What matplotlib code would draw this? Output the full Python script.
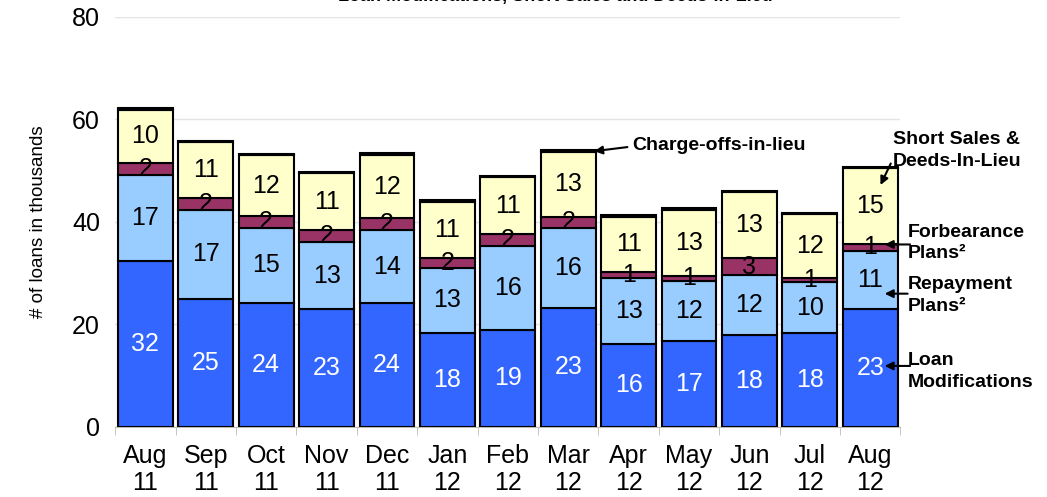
import matplotlib.pyplot as plt
import numpy as np

plt.rcParams['font.family'] = ['Liberation Sans', 'DejaVu Sans']

# Values in thousands of loans
months = ['Aug\n11', 'Sep\n11', 'Oct\n11', 'Nov\n11', 'Dec\n11', 'Jan\n12', 'Feb\n12',
          'Mar\n12', 'Apr\n12', 'May\n12', 'Jun\n12', 'Jul\n12', 'Aug\n12']
loan_mods = [32.4, 25.0, 24.2, 23.0, 24.2, 18.4, 19.0, 23.2, 16.2, 16.8, 18.0, 18.3, 23.1]
repayment = [16.7, 17.3, 14.6, 13.0, 14.2, 12.6, 16.3, 15.6, 12.9, 11.7, 11.6, 10.0, 11.3]
forbearance = [2.4, 2.4, 2.4, 2.4, 2.3, 2.0, 2.4, 2.2, 1.1, 1.0, 3.3, 0.8, 1.3]
short_sales = [10.4, 10.8, 11.8, 11.1, 12.4, 10.9, 11.0, 12.7, 10.8, 12.9, 12.9, 12.4, 14.8]
charge_offs = [0.3, 0.3, 0.3, 0.3, 0.3, 0.3, 0.3, 0.3, 0.3, 0.3, 0.3, 0.3, 0.3]

series = [
    (loan_mods, '#3366FF', 'white'),
    (repayment, '#99CCFF', 'black'),
    (forbearance, '#993366', 'black'),
    (short_sales, '#FFFFCC', 'black'),
    (charge_offs, '#000000', None),
]

fig = plt.figure(figsize=(10.47, 4.97), dpi=100)
ax = fig.add_axes([0.110, 0.141, 0.750, 0.825])

x = np.arange(len(months))
bottom = np.zeros(len(months))
for vals, color, txtcolor in series:
    vals = np.array(vals)
    ax.bar(x, vals, width=0.91, bottom=bottom, color=color, edgecolor='black',
           linewidth=1.5, zorder=3)
    if txtcolor:
        for xi, b, v in zip(x, bottom, vals):
            ax.text(xi, b + v / 2, f"{v:.0f}", ha='center', va='center',
                    fontsize=18, color=txtcolor, zorder=4)
    bottom += vals

ax.set_xlim(-0.5, len(months) - 0.5)
ax.set_ylim(0, 80)
ax.set_yticks([0, 20, 40, 60, 80])
ax.tick_params(axis='y', labelsize=18, length=0, pad=11)
ax.set_xticks(x)
ax.set_xticklabels(months, fontsize=18, linespacing=1.2)
ax.tick_params(axis='x', which='major', length=0, pad=12)
ax.set_xticks(np.arange(-0.5, len(months), 1), minor=True)
ax.tick_params(axis='x', which='minor', length=6, color='#BBBBBB', direction='out')
ax.grid(axis='y', color='#E4E4E4', linewidth=1, zorder=0)
for s in ['top', 'right', 'left']:
    ax.spines[s].set_visible(False)
ax.spines['bottom'].set_color('#BBBBBB')
ax.set_ylabel('# of loans in thousands', fontsize=13.5, labelpad=18)

# title mostly cut off at the top of the original picture
fig.text(0.53, 0.9985, 'Loan Modifications, Short Sales and Deeds-in-Lieu',
         ha='center', va='baseline', fontsize=13, fontweight='bold')

bold = dict(fontsize=14, fontweight='bold', ha='left', va='center',
            linespacing=1.35, clip_on=False)
arrow = dict(arrowstyle='-|>', color='black', lw=1.5, mutation_scale=12,
             shrinkA=0, shrinkB=0)

ax.text(12.38, 53.9, 'Short Sales &\nDeeds-In-Lieu', **bold)
ax.annotate('', xy=(12.17, 47.2), xytext=(12.34, 51.4), arrowprops=arrow,
            annotation_clip=False)

ax.text(8.06, 55.0, 'Charge-offs-in-lieu', **bold)
ax.annotate('', xy=(7.43, 53.8), xytext=(7.98, 54.6), arrowprops=arrow,
            annotation_clip=False)

ax.text(12.62, 35.9, 'Forbearance\nPlans²', **bold)
ax.annotate('', xy=(12.24, 35.6), xytext=(12.66, 35.6), arrowprops=arrow,
            annotation_clip=False)

ax.text(12.62, 25.6, 'Repayment\nPlans²', **bold)
ax.annotate('', xy=(12.24, 26.0), xytext=(12.62, 26.0), arrowprops=arrow,
            annotation_clip=False)

ax.text(12.62, 10.8, 'Loan\nModifications', **bold)
ax.annotate('', xy=(12.24, 11.9), xytext=(12.66, 11.9), arrowprops=arrow,
            annotation_clip=False)

fig.savefig('out.png', dpi=100)
